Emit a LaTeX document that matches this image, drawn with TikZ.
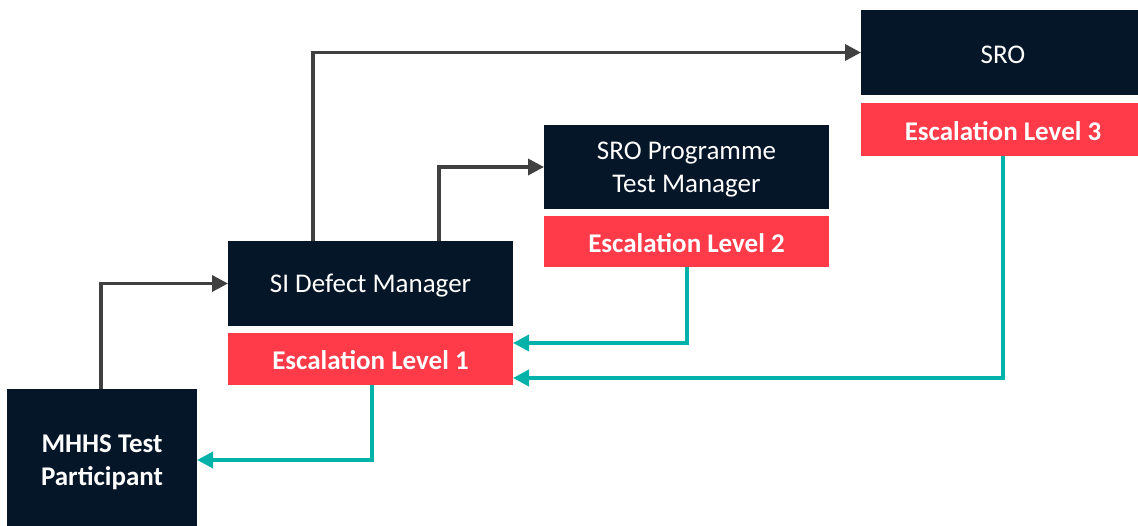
\documentclass[tikz,border=0pt]{standalone}
\usepackage{fontspec}
\setmainfont{Carlito}
\usetikzlibrary{arrows.meta}
\definecolor{navy}{HTML}{061629}
\definecolor{alert}{HTML}{FF3B4A}
\definecolor{teal}{HTML}{00B2A9}
\definecolor{flow}{HTML}{404040}
\tikzset{
  role/.style={fill=navy, text=white, font=\fontsize{27}{33}\selectfont, align=center, inner sep=0pt},
  level/.style={fill=alert, text=white, font=\fontsize{27}{33}\selectfont\bfseries, align=center, inner sep=0pt},
  up/.style={draw=flow, line width=3.5pt, -{Triangle[length=16pt,width=16pt]}},
  back/.style={draw=teal, line width=3.5pt, -{Triangle[length=16pt,width=16pt]}},
}
\begin{document}
\begin{tikzpicture}[x=1pt,y=-1pt]
\useasboundingbox (0,0) rectangle (1138,526);
% boxes: roles (navy) and escalation levels (red)
\path[fill=navy] (7,389) rectangle (197,526);
\node[role, font=\fontsize{27}{33}\selectfont\bfseries] (mhhs) at (102,462.5) {MHHS Test\\Participant};
\coordinate (mhhsN) at (101,389);
\coordinate (mhhsE) at (197,460);

\path[fill=navy] (228,241) rectangle (513,326);
\node[role] (sidm) at (370.5,286) {SI Defect Manager};
\path[fill=alert] (228,333) rectangle (513,385);
\node[level] (l1) at (370.5,360.5) {Escalation Level 1};

\path[fill=navy] (544,125) rectangle (829,209);
\node[role] (ptm) at (686.5,169.5) {SRO Programme\\Test Manager};
\path[fill=alert] (544,216) rectangle (829,267);
\node[level] (l2) at (686.5,243) {Escalation Level 2};

\path[fill=navy] (861,10) rectangle (1138,95);
\node[role] (sro) at (1003,55) {SRO};
\path[fill=alert] (861,103) rectangle (1138,156);
\node[level] (l3) at (1003,131) {Escalation Level 3};

% upward flow
\draw[up] (mhhsN) |- (228,283.5);
\draw[up] (313,241) |- (861,52.5);
\draw[up] (439,241) |- (544,167);

% escalation returns
\draw[back] (687,267) |- (513,343);
\draw[back] (1003,156) |- (513,378);
\draw[back] (372,385) |- (mhhsE);
\end{tikzpicture}
\end{document}
